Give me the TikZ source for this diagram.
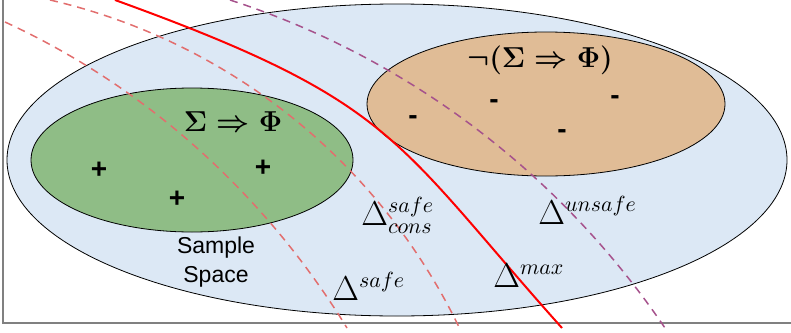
\documentclass[tikz,border=0pt]{standalone}
\usepackage{amsmath, amssymb}
\usepackage{fontspec}
\setsansfont{Liberation Sans}
\usepackage{tikz}
\usetikzlibrary{positioning, calc}
\definecolor{spaceblue}{RGB}{220,232,245}
\definecolor{safegreen}{RGB}{143,189,134}
\definecolor{unsafeorange}{RGB}{224,188,150}
\definecolor{boundpink}{RGB}{226,110,110}
\definecolor{boundpurple}{RGB}{166,82,140}

\tikzset{
  region/.style={draw=black, line width=0.4pt},
  bound/.style={line width=0.75pt, dash pattern=on 4pt off 3pt},
  sign/.style={inner sep=0pt, font=\sffamily\bfseries\fontsize{14}{16}\selectfont},
  formula/.style={inner sep=0pt, font=\fontsize{14}{17}\selectfont\boldmath},
  delta/.style={anchor=base west, inner sep=0pt, font=\fontsize{16}{19}\selectfont},
}

\begin{document}
\begin{tikzpicture}[x=0.5pt, y=-0.5pt]
    \useasboundingbox (0,0) rectangle (791,332);
    % frame
    \draw[gray, line width=0.75pt] (3,-5) -- (3,323) -- (796,323);

    % regions
    \filldraw[region, fill=spaceblue] (397,160) ellipse [x radius=390, y radius=156];
    \filldraw[region, fill=safegreen] (192,160) ellipse [x radius=161, y radius=72];
    \filldraw[region, fill=unsafeorange] (546,104) ellipse [x radius=179, y radius=72];

    % decision boundaries
    \draw[bound, boundpink] (5,22) .. controls (146,87) and (264,193) .. (347,328);
    \draw[bound, boundpink] (50,0) .. controls (227,41) and (377,159) .. (459,327);
    \draw[red, line width=1pt] (115,0) .. controls (397,102) and (393,139) .. (562,328);
    \draw[bound, boundpurple] (230,0) .. controls (406,57) and (559,172) .. (665,328);

    % labels
    \node[formula] (sig) at (233,122) {$\Sigma \Rightarrow \Phi$};
    \node[formula] (negsig) at (540,60) {$\neg(\Sigma \Rightarrow \Phi)$};

    \node[sign] (p1) at (99,170) {+};
    \node[sign] (p2) at (177,199) {+};
    \node[sign] (p3) at (263,168) {+};
    \node[sign] (m1) at (413,120) {-};
    \node[sign] (m2) at (494,104) {-};
    \node[sign] (m3) at (615,100) {-};
    \node[sign] (m4) at (562,134) {-};

    \node[align=center, inner sep=0pt, font=\sffamily\fontsize{11.5}{14.5}\selectfont]
      (space) at (216,262) {Sample\\Space};

    \node[delta] (dcons) at (361,225) {$\Delta^{safe}_{cons}$};
    \node[delta] (dsafe) at (332,300) {$\Delta^{safe}$};
    \node[delta] (dmax) at (493,287) {$\Delta^{max}$};
    \node[delta] (dunsafe) at (538,224) {$\Delta^{unsafe}$};
  \end{tikzpicture}
\end{document}
